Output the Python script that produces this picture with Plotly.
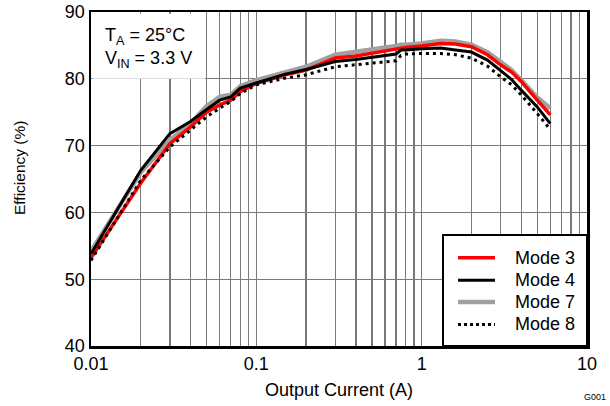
import plotly.graph_objects as go

current = [0.01, 0.02, 0.03, 0.04, 0.05, 0.06, 0.07, 0.08, 0.1, 0.15, 0.2, 0.3, 0.4,
           0.5, 0.6, 0.7, 0.75, 0.8, 1.0, 1.3, 1.6, 2.0, 2.5, 3.0, 3.5, 4.0, 5.0, 6.0]

mode3 = [53.2, 64.4, 70.3, 72.8, 75.0, 76.1, 76.8, 78.1, 79.3, 80.6, 81.3, 83.1, 83.4,
         83.8, 84.1, 84.4, 84.6, 84.7, 84.9, 85.3, 85.2, 84.8, 83.6, 82.1, 81.0, 79.6, 76.8, 74.6]
mode4 = [53.8, 66.3, 71.8, 73.6, 75.4, 76.8, 77.3, 78.6, 79.4, 80.7, 81.4, 82.6, 82.9,
         83.2, 83.4, 83.7, 84.3, 84.3, 84.5, 84.6, 84.3, 84.0, 82.8, 81.3, 79.9, 78.3, 75.8, 73.3]
mode7 = [54.2, 66.0, 70.8, 73.3, 75.9, 77.3, 77.6, 78.9, 79.8, 81.0, 81.8, 83.6, 84.0,
         84.3, 84.6, 84.9, 85.1, 85.1, 85.3, 85.7, 85.6, 85.1, 84.0, 82.6, 81.3, 79.8, 77.2, 75.6]
mode8 = [52.8, 64.8, 69.8, 72.3, 74.3, 75.6, 76.6, 77.8, 79.1, 80.1, 80.6, 81.8, 82.1,
         82.4, 82.6, 82.7, 83.5, 83.7, 83.8, 83.8, 83.6, 83.1, 81.9, 80.3, 79.1, 77.6, 74.8, 72.4]

legend_names = ["Mode 3", "Mode 4", "Mode 7", "Mode 8"]

x_tickvals = [0.01, 0.1, 1, 10]
x_ticktext = ["0.01", "0.1", "1", "10"]
y_tickvals = [40, 50, 60, 70, 80, 90]

FONT = "Liberation Sans, Arial, sans-serif"
GRID = "#7a7a7a"

styles = {
    "Mode 3": dict(color="#ff0000", width=3.5),
    "Mode 4": dict(color="#000000", width=3),
    "Mode 7": dict(color="#a0a0a0", width=4.5),
    "Mode 8": dict(color="#000000", width=3, dash="3px,4px"),
}
values = {"Mode 3": mode3, "Mode 4": mode4, "Mode 7": mode7, "Mode 8": mode8}
draw_order = ["Mode 7", "Mode 3", "Mode 4", "Mode 8"]

fig = go.Figure()
for name in draw_order:
    fig.add_trace(go.Scatter(x=current, y=values[name], mode="lines", name=name,
                             line=styles[name], showlegend=False, hoverinfo="skip"))

fig.update_layout(
    width=610, height=406,
    margin=dict(l=91, r=23, t=12, b=60, autoexpand=False),
    paper_bgcolor="white", plot_bgcolor="white",
    font=dict(family=FONT, size=18, color="black"),
    showlegend=False,
    xaxis=dict(type="log", range=[-2, 1], automargin=False,
               tickvals=x_tickvals, ticktext=x_ticktext,
               showgrid=True, gridcolor=GRID, gridwidth=1.3,
               minor=dict(showgrid=True, gridcolor=GRID, gridwidth=1.3,
                          dtick="D1", ticks=""),
               showline=True, linecolor="black", linewidth=2.5, mirror=True,
               ticks="", tickfont=dict(size=18),
               title=dict(text="Output Current (A)", font=dict(size=18), standoff=11)),
    yaxis=dict(range=[40, 90], tickvals=y_tickvals, automargin=False,
               showgrid=True, gridcolor=GRID, gridwidth=1.3,
               showline=True, linecolor="black", linewidth=2.5, mirror=True,
               ticks="", tickfont=dict(size=18), zeroline=False),
)

# y-axis title (placed as in the reference, slightly above centre)
fig.add_annotation(xref="paper", yref="paper", x=-0.1431, y=0.533,
                   xanchor="center", yanchor="middle", showarrow=False,
                   textangle=-90, text="Efficiency (%)",
                   font=dict(size=15.5, family=FONT))

# white box behind the conditions text
fig.add_shape(type="rect", xref="paper", yref="paper",
              x0=0.003, x1=0.23, y0=0.8, y1=0.995,
              fillcolor="white", line=dict(width=0), layer="above")

fig.add_annotation(xref="paper", yref="paper", x=0.0248, y=0.968,
                   xanchor="left", yanchor="top", align="left", showarrow=False,
                   text="T<sub>A</sub> = 25°C<br>V<sub>IN</sub> = 3.3 V",
                   font=dict(size=18, family=FONT))

# legend box
fig.add_shape(type="rect", xref="paper", yref="paper",
              x0=0.7097, x1=1.0, y0=0.0, y1=0.3323,
              fillcolor="white", line=dict(color="black", width=2), layer="above")
legend_y = [0.2644, 0.1967, 0.1317, 0.0644]
for name, ly in zip(legend_names, legend_y):
    st = dict(styles[name])
    if "dash" in st:
        st["dash"] = "dot"
    fig.add_shape(type="line", xref="paper", yref="paper",
                  x0=0.740, x1=0.8145, y0=ly, y1=ly, line=st, layer="above")
    fig.add_annotation(xref="paper", yref="paper", x=0.8569, y=ly,
                       xanchor="left", yanchor="middle", showarrow=False,
                       text=name, font=dict(size=18, family=FONT), xshift=-3)

fig.add_annotation(xref="paper", yref="paper", x=1.0423, y=-0.1527,
                   xanchor="right", yanchor="middle", showarrow=False,
                   text="G001", font=dict(size=9, family=FONT))

fig.write_html("out.html", config={"displayModeBar": False, "staticPlot": True},
               post_script="document.body.style.margin='0px';")
